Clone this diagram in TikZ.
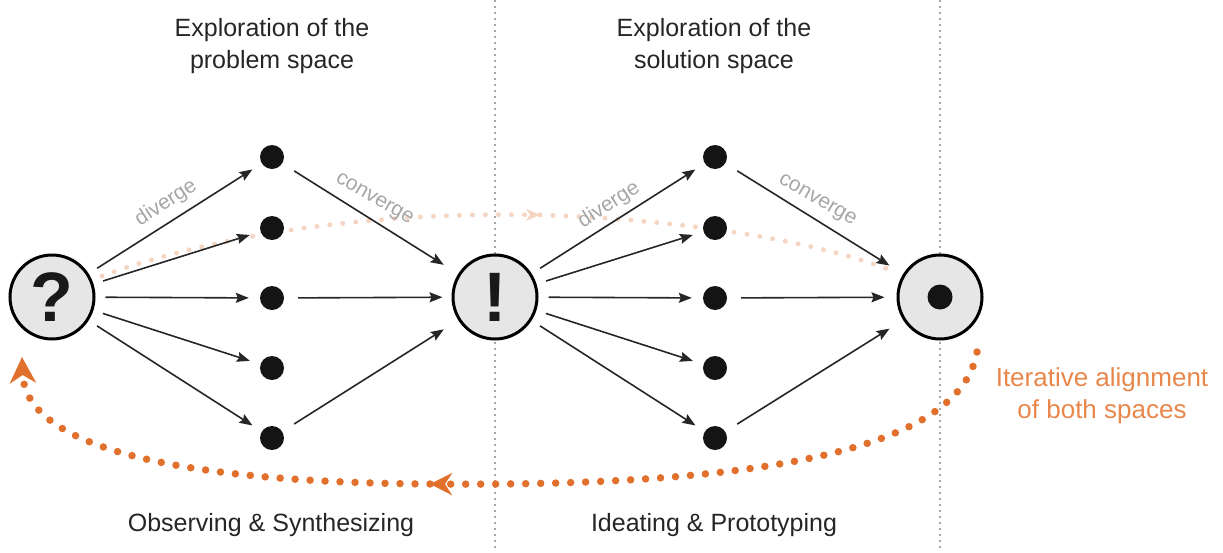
\documentclass[tikz,border=0pt]{standalone}
\usepackage{fontspec}
\setmainfont{Liberation Sans}
\usetikzlibrary{arrows.meta}
\definecolor{ora}{HTML}{E0702C}
\definecolor{oratxt}{HTML}{E8874C}
\definecolor{faint}{HTML}{F4D6C3}
\definecolor{lbl}{HTML}{A6A6A6}
\definecolor{ink}{HTML}{262626}
\definecolor{disc}{HTML}{E6E6E6}
\begin{document}
\begin{tikzpicture}[x=1pt,y=-1pt,
  big/.style={circle,draw=black,line width=3pt,fill=disc,minimum size=84pt,inner sep=0pt},
  dotn/.style={circle,fill=black!92,minimum size=24pt,inner sep=0pt},
  arr/.style={draw=ink,line width=1.6pt,-{Stealth[length=13pt,width=10pt,inset=2pt]}},
  lab/.style={text=lbl,font=\fontsize{21}{21}\selectfont},
  title/.style={align=center,text=ink,font=\fontsize{25}{32}\selectfont},
  otext/.style={align=center,text=oratxt,font=\fontsize{26}{32}\selectfont},
  vline/.style={draw=lbl,line width=1.2pt,dash pattern=on 1.5pt off 4.5pt},
  odots/.style={draw=ora,line width=7.5pt,line cap=round,dash pattern=on 0pt off 15pt},
  fdots/.style={draw=faint,line width=5pt,line cap=round,dash pattern=on 0pt off 13pt},
  glyph/.style={font=\fontsize{70}{70}\bfseries\selectfont,text=black!90}
]
\useasboundingbox (0,0) rectangle (1223,552);

% dotted separators
\coordinate (v1t) at (495,0);  \coordinate (v1b) at (495,552);
\coordinate (v2t) at (940,0);  \coordinate (v2b) at (940,552);
\draw[vline] (v1t) -- (v1b);
\draw[vline] (v2t) -- (v2b);

% faint iteration path
\coordinate (f0) at (102,276);
\coordinate (fm) at (540,215);
\coordinate (f1) at (890,270);
\draw[fdots,-{Stealth[length=14pt,width=12pt,inset=4pt,color=faint]}] (f0) .. controls (200,240) and (350,212) .. (fm);
\draw[fdots] (fm) .. controls (650,218) and (800,235) .. (f1);

% main nodes
\node[big] (q) at (52,297) {};
\node[glyph] (qg) at (q) {?};
\node[big] (ex) at (495,297) {};
\node[glyph] (exg) at (ex) {!};
\node[big] (sol) at (940,297) {};
\node[circle,fill=black!92,minimum size=25pt,inner sep=0pt] (solc) at (sol) {};

\foreach \i/\y in {1/157,2/228,3/298,4/368,5/438}{
  \node[dotn] (a\i) at (272,\y) {};
  \node[dotn] (b\i) at (715,\y) {};
}

% diverging arrows
\foreach \i in {1,...,5}{
  \draw[arr,shorten <=10pt,shorten >=11pt] (q) -- (a\i);
  \draw[arr,shorten <=10pt,shorten >=11pt] (ex) -- (b\i);
}
% converging arrows
\draw[arr,shorten <=14pt,shorten >=17pt] (a1) -- (ex);
\draw[arr,shorten <=14pt,shorten >=9pt] (a3) -- (ex);
\draw[arr,shorten <=14pt,shorten >=17pt] (a5) -- (ex);
\draw[arr,shorten <=14pt,shorten >=16pt] (b1) -- (sol);
\draw[arr,shorten <=14pt,shorten >=12pt] (b3) -- (sol);
\draw[arr,shorten <=14pt,shorten >=16pt] (b5) -- (sol);

% arrow labels
\node[lab,rotate=33] (ld1) at (166,203) {diverge};
\node[lab,rotate=-30] (lc1) at (374,200) {converge};
\node[lab,rotate=33] (ld2) at (609,205) {diverge};
\node[lab,rotate=-30] (lc2) at (817,201) {converge};

% iterative alignment loop
\coordinate (o0) at (977,352);
\coordinate (om) at (430,484);
\coordinate (o1) at (22,357);
\draw[odots,-{Stealth[length=22pt,width=22pt,inset=7pt,color=ora]}] (o0) .. controls (960,450) and (760,486) .. (om);
\draw[odots,-{Stealth[length=26pt,width=26pt,inset=8pt,color=ora]}] (om) .. controls (150,482) and (25,440) .. (o1);

% texts
\node[title] (t1) at (272,46) {Exploration of the\\problem space};
\node[title] (t2) at (714,46) {Exploration of the\\solution space};
\node[title] (t3) at (271,525) {Observing \& Synthesizing};
\node[title] (t4) at (714,525) {Ideating \& Prototyping};
\node[otext] (t5) at (1102,396) {Iterative alignment\\of both spaces};
\end{tikzpicture}
\end{document}
